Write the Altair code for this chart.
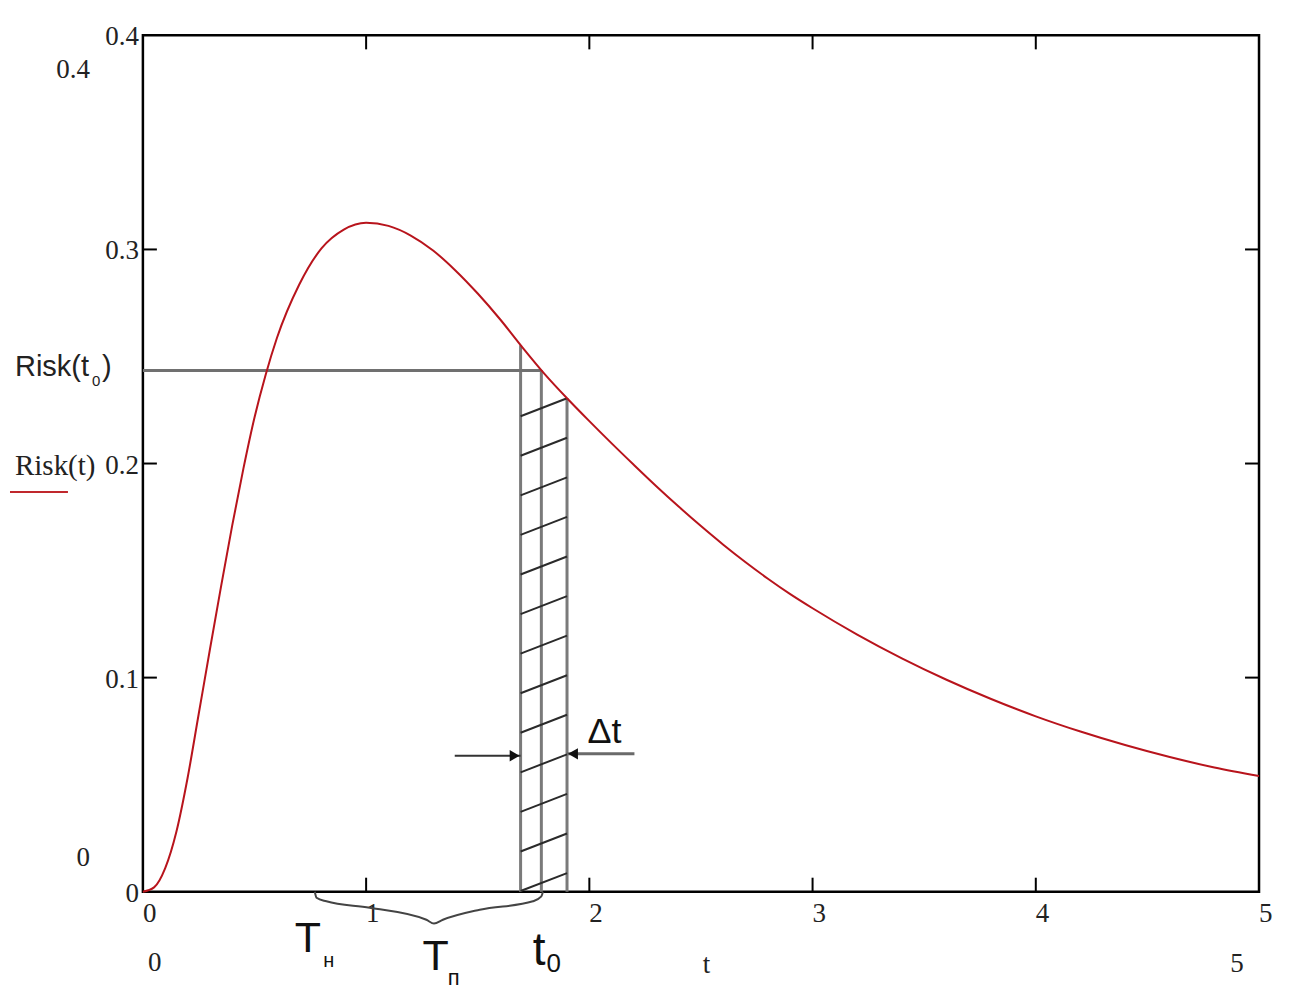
import altair as alt
import pandas as pd
import numpy as np

# ---- data ----
t_vals = [0, 0.05, 0.1, 0.15, 0.2, 0.25, 0.3, 0.35, 0.4, 0.45, 0.5, 0.55, 0.6, 0.7, 0.8,
          0.9, 1.0, 1.1, 1.2, 1.3, 1.4, 1.5, 1.6, 1.7, 1.8, 1.9, 2.0, 2.1, 2.2, 2.3, 2.4,
          2.5, 2.6, 2.7, 2.8, 2.9, 3.0, 3.2, 3.4, 3.6, 3.8, 4.0, 4.2, 4.4, 4.6, 4.8, 5.0]
risk_vals = [0, 0.002, 0.011, 0.028, 0.053, 0.083, 0.113, 0.1425, 0.171, 0.1975, 0.2215,
             0.2415, 0.2585, 0.2835, 0.3005, 0.3093, 0.3125, 0.3110, 0.3065, 0.2995,
             0.2902, 0.2794, 0.2674, 0.2543, 0.2418, 0.2305, 0.2198, 0.2094, 0.1993,
             0.1894, 0.1799, 0.1708, 0.1621, 0.1539, 0.1462, 0.1390, 0.1324, 0.1201,
             0.1090, 0.0990, 0.0900, 0.0819, 0.0748, 0.0685, 0.0629, 0.0580, 0.0540]

t0 = 1.785
risk_t0 = 0.2435
hatch_t = [1.692, 1.785, 1.900]
hatch_top = [0.2553, 0.2437, 0.2305]

x_ticks = [0, 1, 2, 3, 4, 5]
y_ticks = [0, 0.1, 0.2, 0.3, 0.4]
inner_x_ticks = [1, 2, 3, 4]
inner_y_ticks = [0.1, 0.2, 0.3]

brace_t = [0.770, 0.778, 0.822, 1.016, 1.270, 1.304, 1.344, 1.509, 1.747, 1.785, 1.792]
brace_v = [0.0, -0.0028, -0.0045, -0.0075, -0.0131, -0.0149, -0.0131, -0.0084, -0.0045,
           -0.0022, 0.0]

# ---- layout ----
W, H = 1117, 857
XS = alt.Scale(domain=[0, 5], nice=False, zero=False)
YS = alt.Scale(domain=[0, 0.4], nice=False, zero=False)
SERIF = "Liberation Serif"
SANS = "Liberation Sans"
TXT = "#222222"


def X(f="t"):
    return alt.X(f"{f}:Q", scale=XS, axis=None)


def Y(f="v"):
    return alt.Y(f"{f}:Q", scale=YS, axis=None)


curve_df = pd.DataFrame({"t": t_vals, "v": risk_vals})
curve = alt.Chart(curve_df).mark_line(color="#b8141c", strokeWidth=2, interpolate="monotone").encode(
    x=X(), y=Y())

# tick labels (Mathcad style: x labels start at the tick)
xl_df = pd.DataFrame({"t": x_ticks, "s": [f"{v:g}" for v in x_ticks]})
x_labels = alt.Chart(xl_df).mark_text(font=SERIF, fontSize=27, align="left", baseline="top",
                                      color=TXT).encode(x=X(), y=alt.value(H + 9), text="s:N")
yl_df = pd.DataFrame({"v": y_ticks, "s": [f"{v:g}" for v in y_ticks]})
y_labels = alt.Chart(yl_df).mark_text(font=SERIF, fontSize=27, align="right", baseline="middle",
                                      color=TXT, dy=2).encode(x=alt.value(-4), y=Y(), text="s:N")

# inward ticks on all four sides
xt_df = pd.DataFrame({"t": inner_x_ticks})
yt_df = pd.DataFrame({"v": inner_y_ticks})
tick_style = dict(color="black", strokeWidth=2)
ticks_bottom = alt.Chart(xt_df).mark_rule(**tick_style).encode(
    x=X(), y=alt.value(H), y2=alt.value(H - 14))
ticks_top = alt.Chart(xt_df).mark_rule(**tick_style).encode(
    x=X(), y=alt.value(0), y2=alt.value(14))
ticks_left = alt.Chart(yt_df).mark_rule(**tick_style).encode(
    y=Y(), x=alt.value(0), x2=alt.value(14))
ticks_right = alt.Chart(yt_df).mark_rule(**tick_style).encode(
    y=Y(), x=alt.value(W), x2=alt.value(W - 14))

# horizontal Risk(t0) line
hline = alt.Chart(pd.DataFrame({"t": [0], "t2": [t0], "v": [risk_t0]})).mark_rule(
    color="#707070", strokeWidth=3).encode(x=X(), x2="t2:Q", y=Y())

# hatch verticals
hv_df = pd.DataFrame({"t": hatch_t, "v": [0] * 3, "v2": hatch_top})
hverts = alt.Chart(hv_df).mark_rule(color="#7a7a7a", strokeWidth=3).encode(
    x=X(), y=Y(), y2="v2:Q")

# hatch diagonals (decorative pattern between hatch_t[0] and hatch_t[2])
n_diag = 13
rise = 0.0084
right_ends = np.linspace(hatch_top[2], 0.0087, n_diag)
diag_df = pd.DataFrame({"t": [hatch_t[0]] * n_diag, "t2": [hatch_t[2]] * n_diag,
                        "v": right_ends - rise, "v2": right_ends})
diags = alt.Chart(diag_df).mark_rule(color="#2a2a2a", strokeWidth=2).encode(
    x=X(), x2="t2:Q", y=Y(), y2="v2:Q")

# arrows for delta t
arrow_v_l = 0.0635
arrow_v_r = 0.0644
head = 6 / (W / 5)
shaft_l = alt.Chart(pd.DataFrame({"t": [1.397], "t2": [hatch_t[0]], "v": [arrow_v_l]})).mark_rule(
    color="#333333", strokeWidth=2).encode(x=X(), x2="t2:Q", y=Y())
shaft_r = alt.Chart(pd.DataFrame({"t": [hatch_t[2]], "t2": [2.202], "v": [arrow_v_r]})).mark_rule(
    color="#6a6a6a", strokeWidth=3).encode(x=X(), x2="t2:Q", y=Y())
head_l = alt.Chart(pd.DataFrame({"t": [hatch_t[0] - head], "v": [arrow_v_l]})).mark_point(
    shape="triangle-right", filled=True, color="#111111", size=130, opacity=1).encode(x=X(), y=Y())
head_r = alt.Chart(pd.DataFrame({"t": [hatch_t[2] + head], "v": [arrow_v_r]})).mark_point(
    shape="triangle-left", filled=True, color="#111111", size=130, opacity=1).encode(x=X(), y=Y())

# brace
brace_df = pd.DataFrame({"t": brace_t, "v": brace_v, "o": list(range(len(brace_t)))})
brace = alt.Chart(brace_df).mark_line(color="#444444", strokeWidth=2, interpolate="monotone").encode(
    x=X(), y=Y(), order="o:O")


def label(text, t, v, size, font=SANS, align="left", baseline="alphabetic", color="#111111"):
    return alt.Chart(pd.DataFrame({"t": [t], "v": [v], "s": [text]})).mark_text(
        font=font, fontSize=size, align=align, baseline=baseline, color=color).encode(
        x=X(), y=Y(), text="s:N")


def plabel(text, x, y, size, font=SERIF, align="left", baseline="middle", color=TXT):
    return alt.Chart(pd.DataFrame({"s": [text]})).mark_text(
        font=font, fontSize=size, align=align, baseline=baseline, color=color).encode(
        x=alt.value(x), y=alt.value(y), text="s:N")


texts = [
    label("T", 0.680, -0.0280, 43),
    label("н", 0.808, -0.0350, 20),
    label("T", 1.253, -0.0364, 43),
    label("п", 1.366, -0.0434, 22),
    label("t", 1.746, -0.0341, 46),
    label("0", 1.808, -0.0373, 26),
    label("Δt", 1.992, 0.0695, 36),
]

# Risk(t0) label on the left, at the level of Risk(t0)
rt0_df = pd.DataFrame({"v": [risk_t0]})
risk_t0_main = alt.Chart(rt0_df.assign(s="Risk(t")).mark_text(
    font=SANS, fontSize=29, align="left", baseline="middle", color=TXT, dy=-3).encode(
    x=alt.value(-128), y=Y(), text="s:N")
risk_t0_sub = alt.Chart(rt0_df.assign(s="0")).mark_text(
    font=SANS, fontSize=15, align="left", baseline="middle", color=TXT, dy=11).encode(
    x=alt.value(-51), y=Y(), text="s:N")
risk_t0_close = alt.Chart(rt0_df.assign(s=")")).mark_text(
    font=SANS, fontSize=29, align="left", baseline="middle", color=TXT, dy=-3).encode(
    x=alt.value(-41), y=Y(), text="s:N")

# Risk(t) legend-like label with red underline
risk_t_lbl = alt.Chart(pd.DataFrame({"v": [0.2], "s": ["Risk(t)"]})).mark_text(
    font=SERIF, fontSize=29, align="left", baseline="middle", color=TXT, dy=2).encode(
    x=alt.value(-128), y=Y(), text="s:N")
red_line = alt.Chart(pd.DataFrame({"a": [0]})).mark_rule(color="#c0282d", strokeWidth=2).encode(
    x=alt.value(-133), x2=alt.value(-75), y=alt.value(457))

# outer range labels (Mathcad style)
outer = [
    plabel("0.4", -53, 35, 27, align="right"),
    plabel("0", -53, 823, 27, align="right"),
    plabel("0", 5, 928, 27, align="left"),
    plabel("t", 564, 930, 27, align="center"),
    plabel("5", 1095, 929, 27, align="center"),
]

chart = alt.layer(
    hverts, diags, hline, curve, ticks_bottom, ticks_top, ticks_left, ticks_right,
    x_labels, y_labels, shaft_l, shaft_r, head_l, head_r, brace,
    *texts, risk_t0_main, risk_t0_sub, risk_t0_close, risk_t_lbl, red_line, *outer
).properties(
    width=W, height=H,
    padding={"left": 135, "top": 27, "right": 25, "bottom": 100},
    autosize=alt.AutoSizeParams(type="none"),
    background="white",
).configure_view(stroke="black", strokeWidth=2.5)

chart.save("out.html", embed_options={"renderer": "svg", "actions": False})
